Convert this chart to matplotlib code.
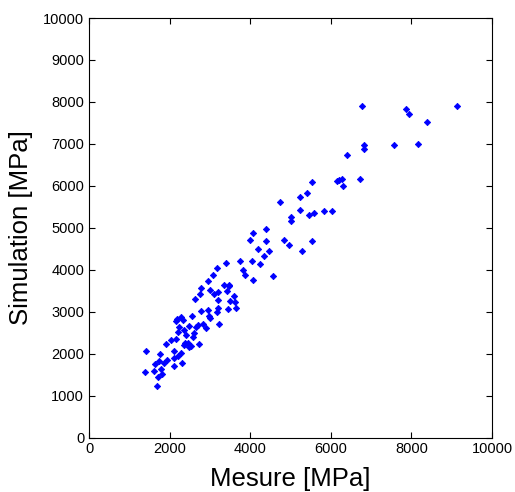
import numpy as np
import matplotlib
matplotlib.use("Agg")
import matplotlib.pyplot as plt

plt.rcParams['font.family'] = ['Liberation Sans', 'DejaVu Sans']

mesure = [1414, 1390, 1680, 1605, 1630, 1712, 1729, 1770, 1787, 1820,
          1853, 1928, 1919, 2043, 2101, 2118, 2101, 2150, 2216, 2184,
          2159, 2242, 2291, 2325, 2283, 2316, 2382, 2399, 2350, 2465,
          2473, 2523, 2481, 2548, 2589, 2630, 2655, 2697, 2729, 2754,
          2787, 2771, 2836, 2895, 2945, 2978, 3002, 2961, 3011, 3085,
          3110, 3169, 3194, 3209, 3209, 3176, 3234, 3358, 3392, 3416,
          3482, 3507, 3441, 3606, 3623, 3648, 3755, 3821, 3879, 4061,
          4061, 3995, 4036, 4201, 4235, 4350, 4384, 4392, 4467, 4573,
          4747, 4830, 4963, 5012, 5012, 5228, 5228, 5277, 5401, 5459,
          5525, 5583, 5525, 5823, 6030, 6162, 6212, 6270, 6311, 6410,
          6716, 6774, 6832, 6832, 7568, 7866, 7940, 8172, 8379, 9124,
          2200, 2600, 2350, 3470]
simulation = [2065, 1571, 1229, 1595, 1747, 1437, 1833, 2000, 1635, 1516,
              1771, 1850, 2224, 2320, 2065, 1905, 1706, 2343, 2518, 2836,
              2780, 2645, 2884, 2804, 2009, 1771, 2255, 2446, 2565, 2248,
              2167, 2183, 2661, 2900, 2406, 3298, 2630, 2678, 2231, 3432,
              3561, 3019, 2709, 2621, 3043, 2907, 2859, 3719, 3520, 3862,
              3425, 4038, 3480, 3282, 3083, 2988, 2702, 3640, 4158, 3496,
              3640, 3265, 3059, 3384, 3241, 3091, 4212, 3998, 3871, 3759,
              4873, 4697, 4212, 4499, 4133, 4332, 4976, 4673, 4451, 3838,
              5621, 4706, 4587, 5246, 5160, 5733, 5422, 4444, 5819, 5303,
              6081, 5358, 4673, 5389, 5389, 6115, 6146, 6170, 5995, 6742,
              6170, 7912, 6973, 6878, 6964, 7833, 7714, 6998, 7513, 7912,
              1950, 2500, 2200, 3600]

fig = plt.figure(figsize=(5.15, 4.92), dpi=100)
ax = fig.add_axes([89/515, 1-437.5/492, 403/515, 419.5/492])
ax.plot(mesure, simulation, linestyle="none", marker="D", markersize=3.2,
        color=(0, 0, 1), markeredgewidth=0.6)
ax.set_xlim(0, 10000)
ax.set_ylim(0, 10000)
ax.set_xticks(np.arange(0, 10001, 2000))
ax.set_yticks(np.arange(0, 10001, 1000))
ax.tick_params(direction="in", top=True, right=True, length=4, labelsize=10.5, width=0.8)
for sp in ax.spines.values():
    sp.set_linewidth(0.8)
ax.set_xlabel("Mesure [MPa]", fontsize=18.5, labelpad=8)
ax.set_ylabel("Simulation [MPa]", fontsize=18.5, labelpad=7)
plt.savefig("out.png", dpi=100)
plt.close()
